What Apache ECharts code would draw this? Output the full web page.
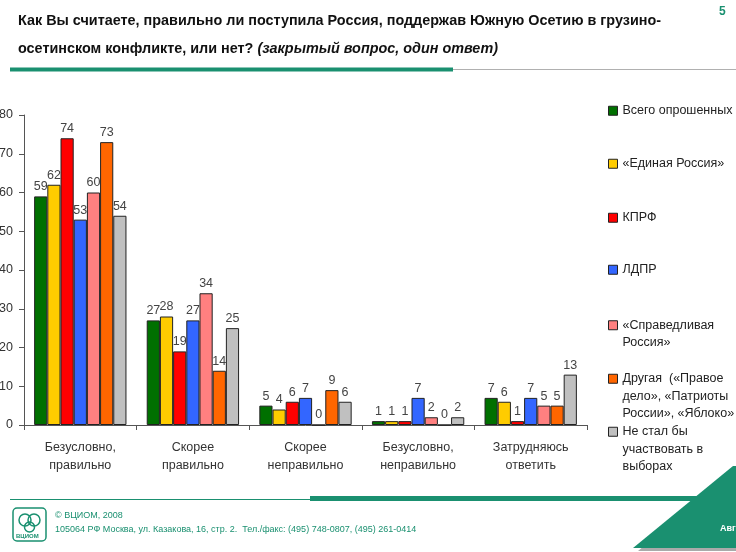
<!DOCTYPE html>
<html><head><meta charset="utf-8">
<script src="https://cdn.jsdelivr.net/npm/echarts@6/dist/echarts.min.js"></script>
<style>html,body{margin:0;padding:0;background:#fff}#c{width:736px;height:552px}</style>
</head><body><div id="c"></div>
<script>
const categories = ['Безусловно,\nправильно', 'Скорее\nправильно', 'Скорее\nнеправильно', 'Безусловно,\nнеправильно', 'Затрудняюсь\nответить'];
const seriesNames = ['Всего опрошенных', '«Единая Россия»', 'КПРФ', 'ЛДПР', '«Справедливая Россия»', 'Другая («Правое дело», «Патриоты России», «Яблоко»)', 'Не стал бы участвовать в выборах'];
const legendLabels = ['Всего опрошенных', '«Единая Россия»', 'КПРФ', 'ЛДПР', '«Справедливая\nРоссия»', 'Другая  («Правое\nдело», «Патриоты\nРоссии», «Яблоко»', 'Не стал бы\nучаствовать в\nвыборах'];
const vTotal = [59, 27, 5, 1, 7];
const vER = [62, 28, 4, 1, 6];
const vKPRF = [74, 19, 6, 1, 1];
const vLDPR = [53, 27, 7, 7, 7];
const vSR = [60, 34, 0, 2, 5];
const vOther = [73, 14, 9, 0, 5];
const vNone = [54, 25, 6, 2, 13];
const yTicks = [0, 10, 20, 30, 40, 50, 60, 70, 80];

const values = [vTotal, vER, vKPRF, vLDPR, vSR, vOther, vNone];
const colors = ['#007000', '#ffcc00', '#ff0000', '#3366ff', '#ff8080', '#ff6600', '#c0c0c0'];
const legendTops = [102, 155, 209, 261, 299, 335, 388];
const FONT = '"Liberation Sans", Arial, sans-serif';
const LH = 17.5;

const chart = echarts.init(document.getElementById('c'));
const series = values.map((v, i) => ({
  name: seriesNames[i], type: 'bar', data: v,
  barGap: '0%', barCategoryGap: '18%',
  itemStyle: { color: colors[i], borderColor: '#222', borderWidth: 1 },
  label: { show: true, position: 'top', distance: 3, color: '#444', fontSize: 12.5, fontFamily: FONT }
}));
const legends = seriesNames.map((n, i) => {
  const lines = legendLabels[i].split('\n').length;
  const txt = '\u00a0\n'.repeat(lines - 1) + legendLabels[i];
  return {
    data: [n], left: 608, top: legendTops[i], orient: 'vertical',
    itemWidth: 9, itemHeight: 9, itemGap: 0, padding: 0, selectedMode: false,
    icon: 'rect',
    itemStyle: { borderColor: '#222', borderWidth: 1 },
    formatter: () => txt,
    textStyle: { fontSize: 12.5, fontFamily: FONT, color: '#222', lineHeight: LH }
  };
});
const TF = 'bold 14.4px "Liberation Sans", Arial';
const TFI = 'italic bold 14.4px "Liberation Sans", Arial';
chart.setOption({
  animation: false,
  textStyle: { fontFamily: FONT },
  grid: { left: 24, right: 149, top: 115, bottom: 127, containLabel: false, outerBoundsMode: 'none' },
  legend: legends,
  xAxis: {
    type: 'category', data: categories,
    axisLine: { lineStyle: { color: '#555' } },
    axisTick: { show: true, length: 5, lineStyle: { color: '#555' } },
    axisLabel: { color: '#333', fontSize: 12.5, lineHeight: 18, margin: 14, fontFamily: FONT }
  },
  yAxis: {
    type: 'value', min: 0, max: 80, interval: 10,
    axisLine: { show: true, lineStyle: { color: '#555' } },
    axisTick: { show: true, length: 5, lineStyle: { color: '#555' } },
    splitLine: { show: false },
    axisLabel: { color: '#333', fontSize: 12.5, margin: 11, fontFamily: FONT,
      formatter: v => yTicks.includes(v) ? String(v) : '' }
  },
  series: series,
  graphic: [
    { type: 'text', left: 18, top: 14, style: { text: 'Как Вы считаете, правильно ли поступила Россия, поддержав Южную Осетию в грузино-', font: TF, fill: '#111' } },
    { type: 'text', left: 18, top: 42, style: { rich: { a: { font: TF, fill: '#111' }, b: { font: TFI, fill: '#111' } }, text: '{a|осетинском конфликте, или нет? }{b|(закрытый вопрос, один ответ)}' } },
    { type: 'text', left: 719, top: 6, style: { text: '5', font: 'bold 12px "Liberation Sans", Arial', fill: '#1a9070' } },
    { type: 'rect', shape: { x: 10, y: 67.5, width: 443, height: 4 }, style: { fill: '#1a9070' } },
    { type: 'rect', shape: { x: 453, y: 69, width: 283, height: 1 }, style: { fill: '#b0b0b0' } },
    { type: 'rect', shape: { x: 10, y: 499, width: 300, height: 1 }, style: { fill: '#1a9070' } },
    { type: 'rect', shape: { x: 310, y: 496, width: 426, height: 5 }, style: { fill: '#1a9070' } },
    { type: 'polygon', shape: { points: [[638, 551], [736, 468], [736, 551]] }, style: { fill: '#aaaaaa' } },
    { type: 'polygon', shape: { points: [[633, 548], [733, 466], [736, 466], [736, 548]] }, style: { fill: '#1a9070' } },
    { type: 'text', left: 720, top: 524, style: { text: 'Авг', font: 'bold 9px Arial', fill: '#fff' } },
    { type: 'rect', shape: { x: 13, y: 508, width: 33, height: 33, r: 4 }, style: { fill: '#fff', stroke: '#1a9070', lineWidth: 1.5 } },
    { type: 'circle', shape: { cx: 25, cy: 520, r: 6 }, style: { fill: 'none', stroke: '#1a9070', lineWidth: 1.5 } },
    { type: 'circle', shape: { cx: 34, cy: 520, r: 6 }, style: { fill: 'none', stroke: '#1a9070', lineWidth: 1.5 } },
    { type: 'circle', shape: { cx: 29.5, cy: 527, r: 5 }, style: { fill: 'none', stroke: '#1a9070', lineWidth: 1.5 } },
    { type: 'text', left: 16, top: 533, style: { text: 'ВЦИОМ', font: 'bold 6px Arial', fill: '#1a9070' } },
    { type: 'text', left: 55, top: 511, style: { text: '© ВЦИОМ, 2008', font: '9px "Liberation Sans Narrow", Arial', fill: '#1a9070' } },
    { type: 'text', left: 55, top: 525, style: { text: '105064 РФ Москва, ул. Казакова, 16, стр. 2.  Тел./факс: (495) 748-0807, (495) 261-0414', font: '9px "Liberation Sans Narrow", Arial', fill: '#1a9070' } }
  ]
});
</script></body></html>
